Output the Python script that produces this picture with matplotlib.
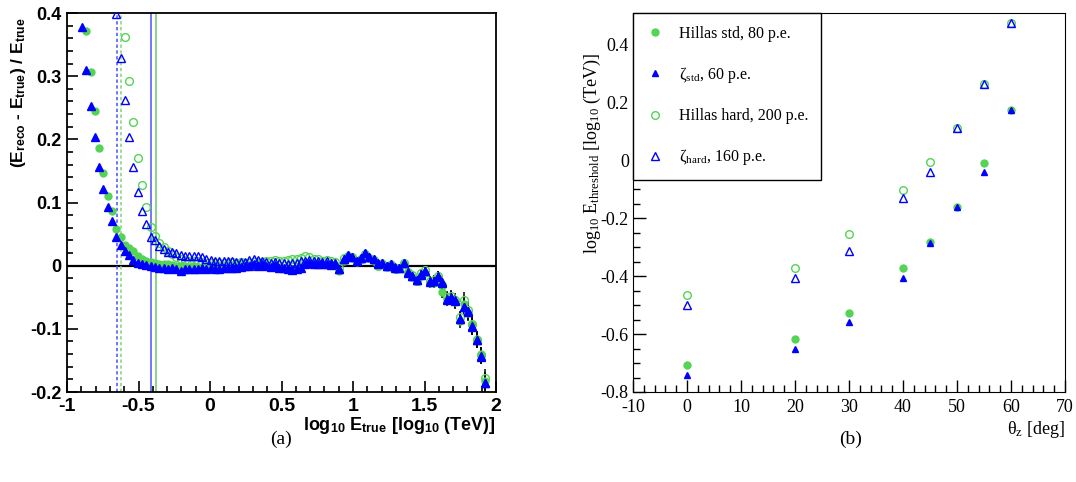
import numpy as np
import matplotlib
matplotlib.use("Agg")
import matplotlib.pyplot as plt
from matplotlib.ticker import MultipleLocator, FuncFormatter

plt.rcParams["axes.unicode_minus"] = False
plt.rcParams["mathtext.fontset"] = "custom"
plt.rcParams["mathtext.rm"] = "Liberation Serif"
plt.rcParams["mathtext.it"] = "Liberation Serif:italic"
plt.rcParams["mathtext.bf"] = "Liberation Sans:bold"

# === (a) energy bias vs true energy, 100 bins in log10(E/TeV) from -1 to 2 ===
bin_edges = np.linspace(-1, 2, 101)
first_bin = 3   # first filled bin
nan = np.nan

zeta_std = [
    0.378, 0.310, 0.253, 0.203, 0.156, 0.122, 0.093, 0.071, 0.046, 0.033,
    0.023, 0.017, 0.009, 0.004, 0.002, 0.001, 0.000, -0.002, -0.004, -0.003,
    -0.005, -0.004, -0.006, -0.009, -0.005, -0.006, -0.005, -0.006, -0.004, -0.006,
    -0.004, -0.005, -0.005, -0.004, -0.003, -0.004, -0.004, -0.002, 0.000, -0.001,
    0.002, -0.001, 0.002, 0.000, -0.002, 0.001, -0.003, -0.004, -0.006, -0.007,
    -0.006, -0.003, 0.002, 0.004, 0.002, 0.003, 0.002, 0.003, 0.001, 0.002,
    -0.006, 0.010, 0.017, 0.013, 0.007, 0.012, 0.020, 0.014, 0.010, 0.004,
    0.005, 0.000, 0.003, -0.002, -0.003, 0.005, -0.011, -0.016, -0.022, -0.014,
    -0.009, -0.026, -0.025, -0.018, -0.027, -0.054, -0.051, -0.056, -0.085, -0.065,
    -0.072, -0.096, -0.118, -0.143, -0.186,
]
hillas_std = [
    nan, 0.372, 0.307, 0.245, 0.187, 0.147, 0.111, 0.086, 0.058, 0.045,
    0.032, 0.028, 0.024, 0.015, 0.011, 0.008, 0.006, 0.004, 0.003, 0.002,
    0.002, 0.001, 0.000, -0.001, -0.002, -0.002, -0.001, -0.002, -0.003, -0.002,
    -0.002, -0.001, 0.000, -0.001, 0.001, 0.000, 0.002, 0.001, 0.002, 0.001,
    0.000, 0.002, -0.001, 0.001, 0.000, -0.001, -0.002, -0.003, -0.004, -0.005,
    -0.004, 0.000, 0.003, 0.005, 0.004, 0.004, 0.003, 0.002, 0.003, 0.001,
    -0.008, 0.008, 0.014, 0.012, 0.006, 0.011, 0.018, 0.012, 0.008, 0.001,
    0.004, -0.002, 0.002, -0.004, -0.004, 0.003, -0.012, -0.018, -0.024, -0.016,
    -0.011, -0.028, -0.027, -0.020, -0.042, -0.052, -0.053, -0.058, -0.088, -0.060,
    -0.075, -0.094, -0.116, -0.140, -0.183,
]
hillas_hard = [
    nan, nan, nan, nan, nan, nan, nan, nan, nan, nan,
    0.362, 0.293, 0.228, 0.171, 0.127, 0.093, 0.061, 0.047, 0.036, 0.030,
    0.024, 0.018, 0.013, 0.010, 0.009, 0.008, 0.008, 0.007, 0.006, 0.005,
    0.004, 0.004, 0.005, 0.004, 0.005, 0.006, 0.005, 0.006, 0.004, 0.005,
    0.006, 0.004, 0.006, 0.008, 0.007, 0.009, 0.008, 0.007, 0.009, 0.011,
    0.010, 0.012, 0.015, 0.013, 0.011, 0.010, 0.008, 0.009, 0.007, 0.006,
    -0.004, 0.012, 0.016, 0.013, 0.008, 0.011, 0.018, 0.012, 0.009, -0.001,
    0.003, -0.001, 0.001, -0.006, -0.004, 0.004, -0.010, -0.015, -0.024, -0.012,
    -0.007, -0.024, -0.022, -0.016, -0.030, -0.050, -0.048, -0.055, -0.082, -0.054,
    -0.070, -0.092, -0.117, -0.141, -0.178,
]
zeta_hard = [
    nan, nan, nan, nan, nan, nan, nan, nan, 0.398, 0.328,
    0.263, 0.203, 0.156, 0.116, 0.087, 0.066, 0.046, 0.040, 0.031, 0.026,
    0.022, 0.021, 0.020, 0.017, 0.016, 0.016, 0.015, 0.015, 0.014, 0.011,
    0.009, 0.008, 0.008, 0.008, 0.008, 0.007, 0.006, 0.006, 0.006, 0.009,
    0.011, 0.009, 0.007, 0.006, 0.005, 0.006, 0.004, 0.005, 0.003, 0.004,
    0.005, 0.007, 0.008, 0.009, 0.007, 0.008, 0.006, 0.007, 0.005, 0.004,
    -0.005, 0.011, 0.017, 0.013, 0.008, 0.012, 0.020, 0.013, 0.010, 0.002,
    0.004, 0.000, 0.002, -0.003, -0.003, 0.005, -0.010, -0.016, -0.022, -0.013,
    -0.008, -0.025, -0.024, -0.017, -0.026, -0.052, -0.050, -0.055, -0.084, -0.066,
    -0.074, -0.097, -0.117, -0.144, -0.185,
]
# statistical errors of the last 35 bins (smaller ones hide under the markers)
err_tail = [
    0.002, 0.002, 0.002, 0.003, 0.003, 0.003, 0.003, 0.003, 0.003, 0.003,
    0.003, 0.003, 0.003, 0.003, 0.004, 0.004, 0.005, 0.005, 0.006, 0.006,
    0.007, 0.007, 0.008, 0.008, 0.009, 0.010, 0.010, 0.011, 0.011, 0.012,
    0.012, 0.013, 0.013, 0.012, 0.014,
]
# analysis thresholds (log10 E)
thr_std = {"zeta": -0.653, "hillas": -0.622}
thr_hard = {"zeta": -0.413, "hillas": -0.380}

# === (b) threshold vs zenith angle ===
zenith = [0, 20, 30, 40, 45, 50, 55, 60]
thr_hillas_std = [-0.708, -0.617, -0.526, -0.372, -0.283, -0.161, -0.008, 0.173]
thr_zeta_std = [-0.740, -0.650, -0.558, -0.406, -0.285, -0.161, -0.040, 0.173]
thr_hillas_hard = [-0.465, -0.373, -0.253, -0.101, -0.006, 0.112, 0.264, 0.477]
thr_zeta_hard = [-0.500, -0.406, -0.314, -0.130, -0.040, 0.112, 0.264, 0.477]

green = "#55d355"
blue = "#0000ff"

fig = plt.figure(figsize=(10.76, 4.82), dpi=100)

# ---------- left panel ----------
ax = fig.add_axes([67 / 1076, 90 / 482, 429 / 1076, 379 / 482])
centres = 0.5 * (bin_edges[1:] + bin_edges[:-1])
x = centres[first_bin:first_bin + len(zeta_std)]
n_tail = len(err_tail)

ax.axhline(0, color="black", lw=1.6, zorder=1)
ax.axvline(thr_std["zeta"], color="#5a5aff", lw=1.2, ls=(0, (2, 1.5)))
ax.axvline(thr_std["hillas"], color="#88d888", lw=1.2, ls=(0, (2, 1.5)))
ax.axvline(thr_hard["zeta"], color="#6a6aff", lw=1.3)
ax.axvline(thr_hard["hillas"], color="#77cc77", lw=1.2)

series = [
    (hillas_hard, "o", "none", green, 5.6),
    (hillas_std, "o", green, green, 5.0),
    (zeta_hard, "^", "none", blue, 5.8),
    (zeta_std, "^", blue, blue, 5.2),
]
for y, m, fc, ec, ms in series:
    y = np.array(y, dtype=float)
    ax.errorbar(x[-n_tail:], y[-n_tail:], yerr=err_tail, fmt="none",
                ecolor="black", elinewidth=1.1, zorder=2)
for y, m, fc, ec, ms in series:
    ax.plot(x, y, ls="none", marker=m, ms=ms, mfc=fc, mec=ec, mew=1.0, zorder=3)

ax.set_xlim(-1, 2)
ax.set_ylim(-0.2, 0.4)
ax.xaxis.set_major_locator(MultipleLocator(0.5))
ax.xaxis.set_minor_locator(MultipleLocator(0.1))
ax.yaxis.set_major_locator(MultipleLocator(0.1))
ax.yaxis.set_minor_locator(MultipleLocator(0.02))
fmt = FuncFormatter(lambda v, p: f"{v:g}")
ax.xaxis.set_major_formatter(fmt)
ax.yaxis.set_major_formatter(fmt)
ax.tick_params(which="both", direction="in", top=False, right=False, width=1.2)
ax.tick_params(which="major", length=8, labelsize=13, pad=4)
ax.tick_params(axis="x", which="major", labelsize=14)
ax.tick_params(which="minor", length=4)
for lab in ax.get_xticklabels() + ax.get_yticklabels():
    lab.set_fontweight("bold")
    lab.set_family("Liberation Sans")
for s in ax.spines.values():
    s.set_linewidth(1.3)
ax.set_ylabel(r"(E$_{\mathbf{reco}}$ - E$_{\mathbf{true}}$) / E$_{\mathbf{true}}$",
              fontsize=12.5, fontweight="bold", family="Liberation Sans")
ax.yaxis.set_label_coords(-0.09, 0.79)
ax.set_xlabel(r"log$_{\mathbf{10}}$ E$_{\mathbf{true}}$ [log$_{\mathbf{10}}$ (TeV)]",
              fontsize=13, fontweight="bold", family="Liberation Sans", loc="right",
              labelpad=0)

# ---------- right panel ----------
bx = fig.add_axes([633 / 1076, 90 / 482, 432 / 1076, 379 / 482])
bx.plot(zenith, thr_hillas_std, ls="none", marker="o", ms=5, mfc=green, mec=green,
        label="Hillas std, 80 p.e.", zorder=3)
bx.plot(zenith, thr_hillas_hard, ls="none", marker="o", ms=5.5, mfc="none", mec=green,
        mew=1.0, label="Hillas hard, 200 p.e.", zorder=3)
bx.plot(zenith, thr_zeta_std, ls="none", marker="^", ms=5, mfc=blue, mec=blue,
        label=r"$\mathrm{\zeta}_{\rm std}$, 60 p.e.", zorder=4)
bx.plot(zenith, thr_zeta_hard, ls="none", marker="^", ms=5.5, mfc="none", mec=blue,
        mew=1.0, label=r"$\mathrm{\zeta}_{\rm hard}$, 160 p.e.", zorder=4)

bx.set_xlim(-10, 70)
bx.set_ylim(-0.8, 0.51)
bx.xaxis.set_major_locator(MultipleLocator(10))
bx.xaxis.set_minor_locator(MultipleLocator(2))
bx.yaxis.set_major_locator(MultipleLocator(0.2))
bx.yaxis.set_minor_locator(MultipleLocator(0.05))
bx.xaxis.set_major_formatter(fmt)
bx.yaxis.set_major_formatter(fmt)
bx.tick_params(which="both", direction="in", top=False, right=False, width=1.0)
bx.tick_params(which="major", length=9, labelsize=13, pad=3)
bx.tick_params(axis="x", which="major", pad=5)
bx.tick_params(which="minor", length=5)
for lab in bx.get_xticklabels() + bx.get_yticklabels():
    lab.set_family("Liberation Serif")
bx.set_ylabel(r"log$_{\rm 10}$ E$_{\rm threshold}$ [log$_{\rm 10}$ (TeV)]",
              fontsize=13, family="Liberation Serif")
bx.yaxis.set_label_coords(-0.07, 0.63)
bx.set_xlabel(r"$\mathrm{\theta}_{\rm z}$ [deg]", fontsize=13, family="Liberation Serif",
              loc="right", labelpad=2)

h, l = bx.get_legend_handles_labels()
order = [0, 2, 1, 3]
leg = bx.legend([h[i] for i in order], [l[i] for i in order], loc="upper left",
                bbox_to_anchor=(0, 1), borderaxespad=0, fancybox=False,
                edgecolor="black", framealpha=1, labelspacing=1.45,
                handlelength=1.2, handletextpad=0.9, borderpad=0.8,
                prop={"family": "Liberation Serif", "size": 11.5})
leg.get_frame().set_linewidth(1.0)

fig.text(281 / 1076, 1 - 439 / 482, "(a)", ha="center", va="center",
         fontsize=14, family="Liberation Serif")
fig.text(851 / 1076, 1 - 439 / 482, "(b)", ha="center", va="center",
         fontsize=14, family="Liberation Serif")

fig.savefig("out.png", dpi=100)
